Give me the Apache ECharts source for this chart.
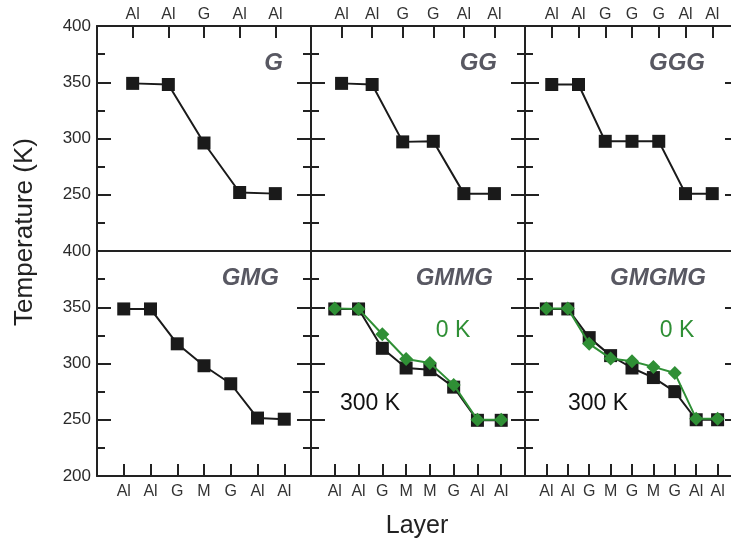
<!DOCTYPE html>
<html>
<head>
<meta charset="utf-8">
<script src="https://cdn.jsdelivr.net/npm/echarts@6/dist/echarts.min.js"></script>
<style>
html, body { margin: 0; padding: 0; background: #fff; overflow: hidden; }
#chart { width: 745px; height: 544px; }
</style>
</head>
<body>
<div id="chart"></div>
<script>
// layer stacks (x tick labels) per structure
var layersG = ['Al', 'Al', 'G', 'Al', 'Al'];
var layersGG = ['Al', 'Al', 'G', 'G', 'Al', 'Al'];
var layersGGG = ['Al', 'Al', 'G', 'G', 'G', 'Al', 'Al'];
var layersGMG = ['Al', 'Al', 'G', 'M', 'G', 'Al', 'Al'];
var layersGMMG = ['Al', 'Al', 'G', 'M', 'M', 'G', 'Al', 'Al'];
var layersGMGMG = ['Al', 'Al', 'G', 'M', 'G', 'M', 'G', 'Al', 'Al'];

// temperatures at 300 K (black squares)
var tempG = [349, 348, 296, 252, 251];
var tempGG = [349, 348, 297, 297.5, 251, 251];
var tempGGG = [348, 348, 297.5, 297.5, 297.5, 251, 251];
var tempGMG = [348.5, 348.5, 317.5, 298, 282, 251.5, 250.5];
var tempGMMG = [348.5, 348.5, 313.5, 296, 294.5, 279, 249.5, 249.5];
var tempGMGMG = [348.5, 348.5, 323, 307, 296, 287.5, 275, 250, 250];

// temperatures at 0 K (green diamonds)
var temp0GMMG = [349, 348.5, 326, 304, 300.5, 281, 250, 250];
var temp0GMGMG = [349, 349, 317.5, 304.5, 302, 297, 291.5, 251, 251];

var yTicks = [200, 400, 50];

var panels = [
    { name: 'G', layers: layersG, t300: tempG },
    { name: 'GG', layers: layersGG, t300: tempGG },
    { name: 'GGG', layers: layersGGG, t300: tempGGG },
    { name: 'GMG', layers: layersGMG, t300: tempGMG },
    { name: 'GMMG', layers: layersGMMG, t300: tempGMMG, t0: temp0GMMG },
    { name: 'GMGMG', layers: layersGMGMG, t300: tempGMGMG, t0: temp0GMGMG }
];

var font = 'Liberation Sans, Arial, sans-serif';
var lineCol = '#222';
var green = '#2f8f35';
var colLeft = [97, 311, 525];
var rowTop = [26, 251];
// title right edges (px from left)
var titleEdge = [[283, 497, 705], [279, 493, 706]];

var grid = [], xAxis = [], yAxis = [], series = [], title = [];

panels.forEach(function (p, i) {
    var col = i % 3, row = Math.floor(i / 3);
    var n = p.layers.length;
    grid.push({ left: colLeft[col], top: rowTop[row], width: 214, height: 225 });

    var axLine = { onZero: false, lineStyle: { color: lineCol, width: 2 } };
    xAxis.push({
        gridIndex: i, type: 'value', position: row === 0 ? 'top' : 'bottom',
        min: 0, max: n + 1, interval: 1,
        axisLine: axLine,
        axisTick: { inside: true, length: 12, lineStyle: { color: lineCol, width: 2 } },
        axisLabel: {
            showMinLabel: false, showMaxLabel: false,
            margin: row === 0 ? 3 : 8,
            fontFamily: font, fontSize: 16, color: '#333',
            formatter: function (v) { return p.layers[v - 1] || ''; }
        },
        splitLine: { show: false }
    });
    xAxis.push({
        gridIndex: i, type: 'value', position: row === 0 ? 'bottom' : 'top',
        min: 0, max: n + 1,
        axisLine: axLine, axisTick: { show: false }, axisLabel: { show: false },
        splitLine: { show: false }
    });

    ['left', 'right'].forEach(function (side) {
        yAxis.push({
            gridIndex: i, type: 'value', position: side,
            min: yTicks[0], max: yTicks[1], interval: yTicks[2],
            axisLine: { show: true, onZero: false, lineStyle: { color: lineCol, width: 2 } },
            axisTick: { show: true, inside: true, length: 14, lineStyle: { color: lineCol, width: 2 } },
            minorTick: { show: true, splitNumber: 2, length: 8, lineStyle: { color: lineCol, width: 2 } },
            axisLabel: {
                show: side === 'left' && col === 0,
                showMinLabel: row === 1,
                margin: 6,
                fontFamily: font, fontSize: 17, color: '#2a2a2a'
            },
            splitLine: { show: false }
        });
    });

    series.push({
        type: 'line', xAxisIndex: 2 * i, yAxisIndex: 2 * i,
        data: p.t300.map(function (v, k) { return [k + 1, v]; }),
        symbol: 'rect', symbolSize: 13,
        lineStyle: { color: '#1a1a1a', width: 2 },
        itemStyle: { color: '#1a1a1a' },
        z: 3
    });
    if (p.t0) {
        series.push({
            type: 'line', xAxisIndex: 2 * i, yAxisIndex: 2 * i,
            data: p.t0.map(function (v, k) { return [k + 1, v]; }),
            symbol: 'diamond', symbolSize: 14,
            lineStyle: { color: green, width: 2 },
            itemStyle: { color: green },
            z: 4
        });
    }

    title.push({
        text: p.name, right: 745 - titleEdge[row][col], top: row === 0 ? 51 : 266, padding: 0,
        textStyle: { fontFamily: font, fontSize: 24, fontWeight: 'bold', fontStyle: 'italic', color: '#585862' }
    });
});

var myChart = echarts.init(document.getElementById('chart'));

option = {
    animation: false,
    title: title,
    grid: grid,
    xAxis: xAxis,
    yAxis: yAxis,
    series: series,
    graphic: [
        { type: 'text', x: 25, y: 232, rotation: Math.PI / 2,
          style: { text: 'Temperature (K)', fontFamily: font, fontSize: 26, fill: '#222', textAlign: 'center', textVerticalAlign: 'middle' } },
        { type: 'text', x: 417, y: 526,
          style: { text: 'Layer', fontFamily: font, fontSize: 25, fill: '#222', textAlign: 'center', textVerticalAlign: 'middle' } },
        { type: 'text', x: 453, y: 331,
          style: { text: '0 K', fontFamily: font, fontSize: 23, fill: green, textAlign: 'center', textVerticalAlign: 'middle' } },
        { type: 'text', x: 677, y: 331,
          style: { text: '0 K', fontFamily: font, fontSize: 23, fill: green, textAlign: 'center', textVerticalAlign: 'middle' } },
        { type: 'text', x: 370, y: 404,
          style: { text: '300 K', fontFamily: font, fontSize: 23, fill: '#111', textAlign: 'center', textVerticalAlign: 'middle' } },
        { type: 'text', x: 598, y: 404,
          style: { text: '300 K', fontFamily: font, fontSize: 23, fill: '#111', textAlign: 'center', textVerticalAlign: 'middle' } }
    ]
};

myChart.setOption(option);
</script>
</body>
</html>
